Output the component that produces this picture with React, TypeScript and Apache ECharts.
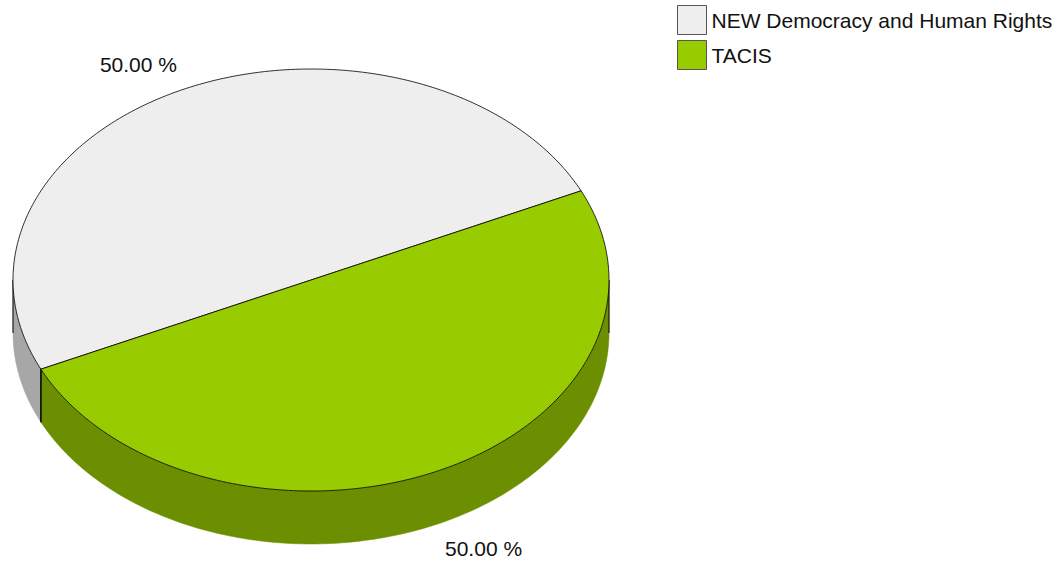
import React, { useEffect, useRef } from "react";
import * as echarts from "echarts";

const categories = ["NEW Democracy and Human Rights", "TACIS"];
const values = [50, 50];
const topColors = ["#EEEEEE", "#99CC00"];
const sideColors = ["#A7A7A7", "#6B8F00"];
const startAngleDeg = 25;
const depthPx = 53;

export default function App() {
  const ref = useRef<HTMLDivElement>(null);
  useEffect(() => {
    const chart = echarts.init(ref.current!, null, { renderer: "svg" });
    const total = values.reduce((a, b) => a + b, 0);
    const starts: number[] = [];
    let acc = 0;
    values.forEach((v) => {
      starts.push(acc);
      acc += v;
    });
    const toRad = (d: number) => (d * Math.PI) / 180;

    const series = categories.map((name, i) => ({
      type: "custom",
      name,
      coordinateSystem: "cartesian2d",
      itemStyle: { color: topColors[i] },
      data: [[0, 0]],
      renderItem: (params: any, api: any) => {
        const a0 = toRad(startAngleDeg + (starts[i] / total) * 360);
        const a1 = toRad(startAngleDeg + ((starts[i] + values[i]) / total) * 360);
        const pt = (t: number) => api.coord([Math.cos(t), Math.sin(t)]);
        const arc = (s: number, e: number) => {
          const n = Math.max(2, Math.ceil(Math.abs(e - s) / toRad(1)));
          const pts: number[][] = [];
          for (let k = 0; k <= n; k++) pts.push(pt(s + ((e - s) * k) / n));
          return pts;
        };
        const children: any[] = [];
        for (let k = -1; k <= 2; k++) {
          const lo = Math.PI + 2 * Math.PI * k;
          const hi = 2 * Math.PI + 2 * Math.PI * k;
          const b0 = Math.max(a0, lo);
          const b1 = Math.min(a1, hi);
          if (b1 > b0) {
            const top = arc(b0, b1);
            const bottom = top.map((p) => [p[0], p[1] + depthPx]).reverse();
            children.push({
              type: "polygon",
              shape: { points: top.concat(bottom) },
              style: { fill: sideColors[i], stroke: sideColors[i], lineWidth: 0.5 },
              z2: 1,
            });
            [b0, b1].forEach((b) => {
              const p = pt(b);
              children.push({
                type: "line",
                shape: { x1: p[0], y1: p[1], x2: p[0], y2: p[1] + depthPx },
                style: { stroke: "#000", lineWidth: 1 },
                z2: 2,
              });
            });
          }
        }
        const c = api.coord([0, 0]);
        children.push({
          type: "polygon",
          shape: { points: [c, ...arc(a0, a1)] },
          style: { fill: topColors[i], stroke: "#000", lineWidth: 0.8 },
          z2: 3,
        });
        const mid = (a0 + a1) / 2;
        const lp = api.coord([1.37 * Math.cos(mid), 1.125 * Math.sin(mid)]);
        children.push({
          type: "text",
          x: lp[0],
          y: lp[1] + (Math.sin(mid) < 0 ? depthPx : 0),
          style: {
            text: ((values[i] / total) * 100).toFixed(2) + " %",
            fill: "#111",
            font: '21px "Liberation Sans", Arial, sans-serif',
            align: "center",
            verticalAlign: "middle",
          },
          z2: 4,
        });
        return { type: "group", children };
      },
    }));

    chart.setOption({
      animation: false,
      backgroundColor: "#FFFFFF",
      grid: { left: 13, top: 69, width: 596, height: 422 },
      xAxis: { type: "value", min: -1, max: 1, show: false },
      yAxis: { type: "value", min: -1, max: 1, show: false },
      legend: {
        data: categories,
        orient: "vertical",
        left: 677,
        top: 5,
        padding: 0,
        icon: "rect",
        itemWidth: 29,
        itemHeight: 29,
        itemGap: 5,
        selectedMode: false,
        itemStyle: { borderColor: "#555", borderWidth: 1 },
        textStyle: { fontSize: 21, color: "#111", fontFamily: '"Liberation Sans", Arial, sans-serif' },
      },
      series,
    } as any);
    return () => chart.dispose();
  }, []);
  return (
    <div
      ref={ref}
      style={{ position: "fixed", left: 0, top: 0, width: 1062, height: 562, background: "#fff" }}
    />
  );
}
